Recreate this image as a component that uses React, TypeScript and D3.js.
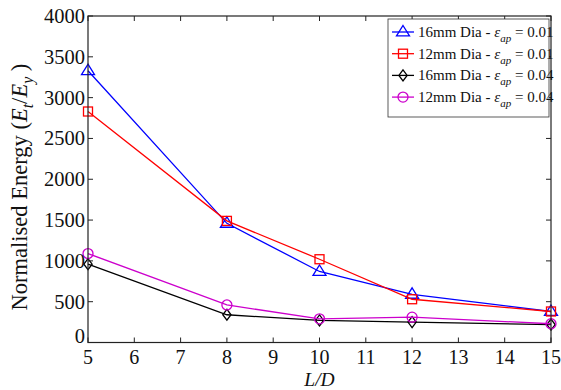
import React from "react";
import * as d3 from "d3";

const ratios = [5, 8, 10, 12, 15];
const dia16_001 = [3330, 1460, 870, 590, 380];
const dia12_001 = [2830, 1490, 1020, 530, 380];
const dia16_004 = [960, 340, 270, 250, 220];
const dia12_004 = [1090, 460, 290, 310, 230];
const xTicks = [5, 6, 7, 8, 9, 10, 11, 12, 13, 14, 15];
const yTicks = [0, 500, 1000, 1500, 2000, 2500, 3000, 3500, 4000];

const series = [
  { dia: "16mm", eps: "0.01", values: dia16_001, color: "#0000ff", marker: "triangle" },
  { dia: "12mm", eps: "0.01", values: dia12_001, color: "#ff0000", marker: "square" },
  { dia: "16mm", eps: "0.04", values: dia16_004, color: "#000000", marker: "diamond" },
  { dia: "12mm", eps: "0.04", values: dia12_004, color: "#cc00cc", marker: "circle" },
];

const W = 561, H = 390;
const L = 88, R = 551, T = 16, B = 342.5;
const FONT = "Liberation Serif, DejaVu Serif, serif";

function Marker({ type, x, y, color }: { type: string; x: number; y: number; color: string }) {
  const common = { fill: "none", stroke: color, strokeWidth: 1.3 };
  if (type === "triangle") {
    const s = 6.5;
    return <path d={`M${x},${y - s}L${x + s},${y + s * 0.6}L${x - s},${y + s * 0.6}Z`} {...common} />;
  }
  if (type === "square") {
    const s = 4.5;
    return <rect x={x - s} y={y - s} width={2 * s} height={2 * s} {...common} />;
  }
  if (type === "diamond") {
    const s = 5.5;
    return <path d={`M${x},${y - s}L${x + s * 0.75},${y}L${x},${y + s}L${x - s * 0.75},${y}Z`} {...common} />;
  }
  return <circle cx={x} cy={y} r={5} {...common} />;
}

export default function App() {
  const x = d3.scaleLinear().domain([5, 15]).range([L, R]);
  const y = d3.scaleLinear().domain([0, 4000]).range([B, T]);
  const line = d3
    .line<number>()
    .x((_, i) => x(ratios[i]))
    .y((d) => y(d));

  const tick = 5;
  const legX = 388, legY = 19, legW = 161, legH = 98, rowH = 21.7;

  return (
    <svg width={W} height={H} style={{ position: "absolute", left: 0, top: 0, background: "#fff", fontFamily: FONT }}>
      {/* series lines and markers */}
      {series.map((s, si) => (
        <g key={si}>
          <path d={line(s.values) || ""} fill="none" stroke={s.color} strokeWidth={1.3} />
          {s.values.map((v, i) => (
            <Marker key={i} type={s.marker} x={x(ratios[i])} y={y(v)} color={s.color} />
          ))}
        </g>
      ))}

      {/* axes box */}
      <rect x={L} y={T} width={R - L} height={B - T} fill="none" stroke="#222" strokeWidth={1.2} />
      {xTicks.map((t) => (
        <g key={"x" + t}>
          <line x1={x(t)} x2={x(t)} y1={B} y2={B - tick} stroke="#222" />
          <line x1={x(t)} x2={x(t)} y1={T} y2={T + tick} stroke="#222" />
          <text x={x(t)} y={364} fontSize={20} textAnchor="middle" fill="#111">
            {t}
          </text>
        </g>
      ))}
      {yTicks.map((t) => (
        <g key={"y" + t}>
          <line x1={L} x2={L + tick} y1={y(t)} y2={y(t)} stroke="#222" />
          <line x1={R} x2={R - tick} y1={y(t)} y2={y(t)} stroke="#222" />
          <text x={L - 3} y={y(t) + (t === 0 ? 0 : 7)} fontSize={20.5} textAnchor="end" fill="#111">
            {t}
          </text>
        </g>
      ))}

      {/* axis titles */}
      <text x={(L + R) / 2} y={386} fontSize={19.5} textAnchor="middle" fill="#111" fontStyle="italic">
        L/D
      </text>
      <text transform={`translate(27, 187) rotate(-90)`} fontSize={22.5} textAnchor="middle" fill="#111">
        Normalised Energy (<tspan fontStyle="italic">E</tspan>
        <tspan fontSize={16} fontStyle="italic" dy={6}>t</tspan>
        <tspan dy={-6}>/</tspan>
        <tspan fontStyle="italic">E</tspan>
        <tspan fontSize={16} fontStyle="italic" dy={6}>y</tspan>
        <tspan dy={-6}>{"\u00a0)"}</tspan>
      </text>

      {/* legend */}
      <rect x={legX} y={legY} width={legW} height={legH} fill="#fff" stroke="#333" strokeWidth={0.8} />
      {series.map((s, i) => {
        const cy = legY + 13 + i * rowH;
        return (
          <g key={"l" + i}>
            <line x1={legX + 4} x2={legX + 26} y1={cy} y2={cy} stroke={s.color} strokeWidth={1.3} />
            <Marker type={s.marker} x={legX + 15} y={cy} color={s.color} />
            <text x={legX + 30} y={cy + 5} fontSize={15} fill="#111">
              {s.dia} Dia - <tspan fontStyle="italic">ε</tspan>
              <tspan fontSize={11} fontStyle="italic" dy={5}>ap</tspan>
              <tspan dy={-5}> = {s.eps}</tspan>
            </text>
          </g>
        );
      })}
    </svg>
  );
}
